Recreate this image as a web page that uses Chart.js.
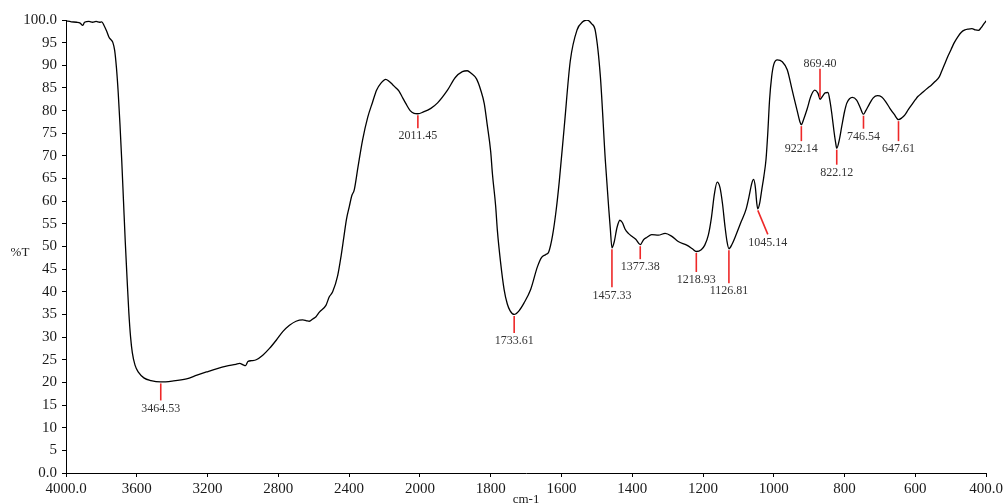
<!DOCTYPE html>
<html><head><meta charset="utf-8">
<script src="https://cdn.jsdelivr.net/npm/chart.js@4.4.0/dist/chart.umd.min.js"></script>
<style>html,body{margin:0;padding:0;background:#fff}#wrap{width:1006px;height:503px;position:relative}</style>
</head><body><div id="wrap"><canvas id="c"></canvas></div>
<script>
// ---- data (wavenumber cm-1, %T) ----
const wavenumbers = [
4000,3970,3940,3920,3905,3895,3870,3850,3830,3810,3798,3785,3770,3757,3745,3735,3725,3715,3705,3695,3685,3675,3665,3655,3645,3635,3625,3610,3590,3560,3520,3464.53,3400,3319,3260,3206,3150,3094,3040,3019,2995,2985,2972,2950,2925,2888,2850,2812,2775,2737,2700,2662,2640,2625,2605,2587,2568,2531,2512,2493,2465,2445,2430,2415,2399,2385,2371,2350,2324,2295,2268,2245,2221,2193,2175,2156,2135,2118,2100,2080,2055,2033,2011.45,
1990,1969,1950,1922,1900,1880,1866,1856,1840,1828,1818,1810,1800,1795,1786,1781,1772,1762,1753,1745,1733.61,1720,1706,1687,1668,1656,1645,1636,1625,1615,1606,1592,1575,1556,1540,1528,1515,1504,1490,1476,1466,1462,1457.33,1451,1443,1435,1428,1420,1411,1400,1390,1377.38,1368,1359,1345,1326,1307,1289,1270,1246,1230,1218.93,1205,1195,1185,1176,1168,1160,1152,1145,1138,1132,1126.81,1118,1106,1092,1078,1070,1062,1057,1052,1048,1045.14,1040,1034,1028,1022,1017,1012,1006,1000,990,976,962,948,934,926,922.14,916,906,895,884,875,869.40,862,855,847,841,836,830,825,822.12,815,808,800,794,786,778,766,756,746.54,740,733,719,707,695,684,672,660,647.61,638,630,620,611,600,593,580,565,555,546,532,525,518,508,499,490,480,470,460,450,440,430,422,414,406,400];
const transmittance = [
99.8,99.6,99.5,99.3,98.8,99.5,99.7,99.5,99.7,99.5,99.6,98.8,97.5,96.2,95.6,95.0,93.3,89.5,84,77,69,60,51,43,35.5,30,26.5,23.8,22.2,21.0,20.4,20.1,20.3,20.8,21.6,22.3,23.0,23.6,24.0,24.2,23.8,23.7,24.6,24.8,25.0,26.0,27.5,29.3,31.2,32.6,33.5,33.8,33.6,33.5,34.0,34.5,35.5,37.0,38.9,40.0,43.5,48,52,56,58.8,61.2,62.5,67.5,73.5,78.5,81.8,84.5,86.0,86.9,86.5,85.8,85.0,84.3,83.0,81.6,80.0,79.4,79.3,
79.7,80.5,81.7,84.5,87.3,88.6,88.8,88.3,87.0,84.5,81.5,77,71,66,59,53.5,46.5,40.5,37.3,35.8,35.0,35.8,37.5,40.5,45.5,47.6,48.2,48.8,52.5,58,64.5,76.5,91,97.8,99.6,100,99.2,97.5,87.5,69,58,54,49.7,51.0,54.2,55.8,55.3,53.8,52.9,52.2,51.6,50.4,51.5,52.0,52.6,52.5,52.9,52.3,51.1,50.3,49.5,48.9,49.3,50.3,52.5,56.5,61.5,64.2,63.0,59.5,54.5,51.0,49.5,50.5,52.7,55.5,58.3,61.0,64.0,64.8,63.0,59.5,58.3,59.5,62.5,65.5,69.2,75,82.3,87.5,90.2,91.2,90.8,89.0,84.5,80.0,77.5,76.9,78.0,80.3,83.2,84.5,83.8,82.5,83.2,83.9,84.0,82.0,79.3,75.5,72.8,71.7,73.5,76.5,79.8,81.6,82.6,82.9,82.3,80.7,79.2,80.0,81.0,82.8,83.3,83.0,82.0,80.5,79.2,78.0,78.4,79.0,80.2,81.2,82.4,83.1,84.0,85.0,85.6,86.3,87.5,88.8,90.1,92.0,93.5,95.0,96.3,97.3,97.8,98.0,98.1,97.8,97.7,98.3,99.2,99.8];
const peakWavenumbers = [3464.53,2011.45,1733.61,1457.33,1377.38,1218.93,1126.81,1045.14,922.14,869.40,822.12,746.54,647.61];
const peakLabels = ['3464.53','2011.45','1733.61','1457.33','1377.38','1218.93','1126.81','1045.14','922.14','869.40','822.12','746.54','647.61'];
const xTickValues = [4000,3600,3200,2800,2400,2000,1800,1600,1400,1200,1000,800,600,400];
const xTickLabels = ['4000.0','3600','3200','2800','2400','2000','1800','1600','1400','1200','1000','800','600','400.0'];
const yTickValues = [0,5,10,15,20,25,30,35,40,45,50,55,60,65,70,75,80,85,90,95,100];
const yTickLabels = ['0.0','5','10','15','20','25','30','35','40','45','50','55','60','65','70','75','80','85','90','95','100.0'];

// ---- layout / style (not data) ----
const peakMarkStyle = [ // dx, len (px); negative len = upward
 {dx:0,len:17},{dx:0,len:13},{dx:0,len:17},{dx:0,len:38},{dx:0,len:13},{dx:0,len:19},{dx:0,len:33},
 {dx:10,len:24},{dx:0,len:15},{dx:0,len:-29},{dx:0,len:15},{dx:0,len:13},{dx:0,len:20}];
const SERIF = "'Liberation Serif','DejaVu Serif',serif";

// axis scale break: 4000-2000 compressed by factor 2
const BREAK = 2000;
function axisPos(wn){ return wn > BREAK ? BREAK + (wn - BREAK) / 2 : wn; }

function tAt(wn){
  const i = wavenumbers.indexOf(wn);
  if (i >= 0) return transmittance[i];
  for (let k=0;k<wavenumbers.length-1;k++){
    const a=wavenumbers[k], b=wavenumbers[k+1];
    if (wn<=a && wn>=b){ const f=(a-wn)/(a-b); return transmittance[k]+f*(transmittance[k+1]-transmittance[k]); }
  }
  return 0;
}

const peakPlugin = {
  id:'peaks',
  afterDatasetsDraw(chart){
    const ctx = chart.ctx, xs = chart.scales.x, ys = chart.scales.y;
    ctx.save();
    peakWavenumbers.forEach((wn,i)=>{
      const st = peakMarkStyle[i];
      const px = xs.getPixelForValue(axisPos(wn));
      const py = ys.getPixelForValue(tAt(wn));
      const dir = st.len < 0 ? -1 : 1;
      const y0 = py + dir*1.5;
      const x1 = px + st.dx, y1 = y0 + st.len;
      ctx.strokeStyle = 'rgb(238,40,40)';
      ctx.lineWidth = 1.6;
      ctx.beginPath(); ctx.moveTo(px, y0); ctx.lineTo(x1, y1); ctx.stroke();
      ctx.fillStyle = '#333';
      ctx.font = '12px ' + SERIF;
      ctx.textAlign = 'center';
      ctx.textBaseline = 'middle';
      ctx.fillText(peakLabels[i], x1, dir>0 ? y1 + 8 : y1 - 5);
    });
    ctx.fillStyle = '#222';
    ctx.font = '13px ' + SERIF;
    ctx.textAlign = 'center';
    ctx.textBaseline = 'middle';
    ctx.fillText('%T', 20, 253);
    ctx.textBaseline = 'top';
    ctx.fillText('cm-1', (chart.chartArea.left+chart.chartArea.right)/2, 493);
    ctx.restore();
  }
};

new Chart(document.getElementById('c'), {
  type:'line',
  data:{ datasets:[{
    data: wavenumbers.map((w,i)=>({x: axisPos(w), y: transmittance[i]})),
    borderColor:'#000', borderWidth:1.3, pointRadius:0, fill:false,
    cubicInterpolationMode:'monotone'
  }]},
  options:{
    responsive:true, maintainAspectRatio:false, animation:false,
    layout:{ padding:{ top:20, right:17, bottom:0, left:0 } },
    plugins:{ legend:{display:false}, tooltip:{enabled:false} },
    scales:{
      x:{
        type:'linear', reverse:true, min: axisPos(400), max: axisPos(4000),
        afterBuildTicks: s => { s.ticks = xTickValues.map(v=>({value: axisPos(v)})); },
        afterFit: s => { s.height = 30; },
        ticks:{ callback:(v,i)=>xTickLabels[i], font:{family:SERIF,size:15}, color:'#1a1a1a', padding:3, maxRotation:0, autoSkip:false },
        grid:{ display:true, drawOnChartArea:false, drawTicks:true, tickLength:4, color:'#000' },
        border:{ display:true, color:'#000', width:1 }
      },
      y:{
        type:'linear', min:0, max:100,
        afterBuildTicks: s => { s.ticks = yTickValues.map(v=>({value:v})); },
        afterFit: s => { s.width = 66; },
        ticks:{ callback:(v,i)=>yTickLabels[i], font:{family:SERIF,size:15}, color:'#1a1a1a', padding:5, autoSkip:false },
        grid:{ display:true, drawOnChartArea:false, drawTicks:true, tickLength:4, color:'#000' },
        border:{ display:true, color:'#000', width:1 }
      }
    }
  },
  plugins:[peakPlugin]
});
</script></body></html>
